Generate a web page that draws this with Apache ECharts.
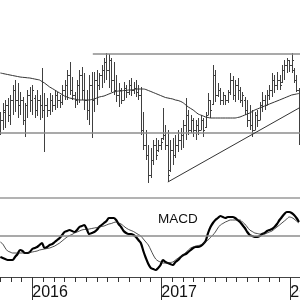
<!DOCTYPE html>
<html>
<head>
<meta charset="utf-8">
<script src="https://cdn.jsdelivr.net/npm/echarts@6/dist/echarts.min.js"></script>
<style>
  html, body { margin: 0; padding: 0; background: #fff; }
  #weeklyChart { width: 300px; height: 300px; }
</style>
</head>
<body>
<div id="weeklyChart"></div>
<script>
// weekly bars, first week ending 2015-10-02
let firstWeek = '2015-10-02'
let highs = [88, 97, 100, 102, 105, 115, 120, 117, 108, 103, 97, 110, 113, 115, 105, 110, 105, 132, 107, 102,
  107, 105, 110, 108, 105, 115, 120, 130, 138, 123, 108, 120, 130, 133, 127, 110, 125, 128, 128, 130,
  127, 135, 142, 147, 146, 142, 138, 125, 117, 112, 118, 115, 120, 122, 118, 120, 115, 113, 88, 70,
  55, 52, 60, 62, 60, 62, 92, 75, 70, 60, 62, 65, 70, 72, 80, 102, 90, 85, 82, 80,
  82, 85, 82, 88, 107, 100, 135, 130, 117, 112, 108, 105, 110, 127, 124, 120, 122, 113, 108, 103,
  100, 95, 90, 88, 90, 98, 108, 105, 110, 115, 127, 125, 128, 125, 135, 140, 142, 140, 147, 132,
  125, 112]
let lows = [65, 70, 72, 78, 75, 85, 88, 82, 85, 75, 63, 82, 88, 85, 82, 84, 80, 82, 48, 83,
  85, 88, 90, 92, 92, 95, 100, 100, 105, 100, 92, 95, 97, 100, 90, 80, 75, 62, 88, 95,
  110, 112, 117, 120, 112, 108, 105, 98, 93, 96, 100, 102, 105, 104, 106, 103, 100, 65, 50, 40,
  17, 22, 35, 40, 48, 50, 60, 50, 18, 28, 35, 42, 48, 50, 52, 60, 65, 67, 63, 60,
  65, 70, 63, 72, 85, 82, 95, 98, 103, 95, 95, 95, 97, 105, 100, 98, 100, 97, 93, 85,
  73, 70, 63, 70, 73, 80, 88, 90, 95, 100, 103, 107, 110, 110, 117, 120, 127, 128, 127, 117,
  108, 55]
let opens = [70, 80, 88, 95, 85, 100, 110, 100, 95, 100, 80, 95, 105, 100, 102, 90, 100, 95, 90, 95,
  90, 100, 95, 105, 100, 98, 110, 115, 125, 110, 105, 100, 115, 125, 110, 100, 90, 115, 100, 120,
  115, 125, 130, 138, 130, 140, 120, 110, 105, 110, 100, 112, 108, 115, 110, 112, 108, 105, 70, 55,
  45, 25, 40, 55, 50, 55, 62, 65, 55, 30, 50, 45, 55, 60, 65, 75, 85, 70, 80, 70,
  75, 70, 80, 73, 85, 100, 96, 125, 105, 110, 100, 105, 100, 108, 120, 105, 115, 110, 100, 100,
  90, 80, 75, 70, 85, 80, 95, 100, 95, 105, 110, 120, 115, 120, 118, 130, 135, 140, 135, 130,
  120, 110]
let closes = [80, 90, 95, 85, 100, 110, 100, 95, 100, 80, 95, 105, 100, 110, 90, 100, 95, 90, 95, 90,
  100, 95, 105, 100, 98, 110, 115, 125, 110, 105, 100, 115, 125, 110, 100, 90, 115, 100, 120, 115,
  125, 130, 138, 130, 140, 120, 110, 105, 110, 100, 112, 108, 115, 110, 112, 108, 105, 70, 55, 45,
  25, 40, 55, 45, 55, 58, 65, 55, 25, 50, 45, 55, 60, 65, 75, 85, 70, 80, 70, 75,
  70, 80, 70, 85, 100, 90, 125, 105, 110, 100, 105, 100, 108, 120, 105, 115, 110, 100, 105, 90,
  80, 75, 70, 85, 80, 95, 100, 95, 105, 110, 120, 115, 120, 115, 130, 135, 140, 135, 140, 120,
  110, 60]
// moving average as drawn
let movingAvg = [127, 126.5, 126, 125.5, 125, 124.5, 124, 123.5, 123, 122.7, 122.5, 122.2, 122, 121.5, 121, 120.5, 120, 118.5, 117, 115,
  113, 111.5, 110, 108.5, 107, 105.5, 104, 103, 102, 101.5, 101, 100.5, 100, 100, 100, 100, 100, 100.5, 101, 102,
  103, 103.5, 104, 105, 106, 107, 108, 108.5, 109, 109, 109.5, 109.5, 110, 110, 110.5, 111, 111, 111, 111, 110.5,
  109.5, 108.5, 107.5, 106.5, 105.5, 104.5, 103.5, 102.5, 102, 101.5, 101, 100, 99.5, 98.5, 97, 95, 93, 91.5, 90, 88,
  86, 85, 84, 83, 82.5, 82, 82, 82, 82, 82, 82, 82, 82, 82, 82, 82, 82.5, 83, 84, 85,
  86, 87, 88.5, 90, 91, 92, 93, 94, 95, 96, 97, 98, 99, 100, 101, 102, 103, 104, 105, 105.5,
  106, 106.5]
let macdLine = [-2.13, -2.23, -2.33, -2.43, -2.43, -2.43, -2.13, -1.83, -1.43, -1.53, -1.73, -1.73, -1.63, -1.33, -1.23, -1.13, -0.93, -0.73, -1.23, -1.13,
  -0.93, -0.83, -0.63, -0.43, -0.23, 0.07, 0.37, 0.47, 0.57, 0.47, 0.37, 0.57, 0.87, 0.97, 1.07, 0.67, 0.17, 0.27, 0.37, 0.57,
  0.87, 1.07, 1.27, 1.47, 1.77, 1.77, 1.77, 1.57, 1.17, 0.87, 0.47, 0.27, 0.17, 0.17, 0.07, -0.13, -0.43, -0.73, -1.53, -2.23,
  -2.83, -3.23, -3.33, -3.43, -3.23, -2.93, -2.43, -2.63, -2.73, -2.83, -2.93, -2.63, -2.43, -2.13, -1.93, -1.83, -1.63, -1.43, -1.23, -1.13,
  -1.13, -1.03, -0.83, -0.53, 0.27, 0.87, 1.27, 1.57, 1.77, 1.97, 1.87, 1.77, 1.87, 1.87, 1.87, 1.77, 1.57, 1.37, 1.07, 0.77,
  0.37, 0.07, -0.03, -0.13, -0.13, -0.03, 0.17, 0.27, 0.47, 0.57, 0.67, 0.87, 1.17, 1.57, 1.87, 2.17, 2.37, 2.37, 2.27, 2.07,
  1.77, 1.37]
let signalLine = [-0.63, -0.83, -1.23, -1.53, -1.63, -1.73, -1.73, -1.73, -1.73, -1.73, -1.73, -1.73, -1.68, -1.63, -1.58, -1.53, -1.43, -1.38, -1.33, -1.28,
  -1.23, -1.13, -1.03, -0.88, -0.73, -0.53, -0.33, -0.13, 0.02, 0.12, 0.27, 0.37, 0.47, 0.57, 0.62, 0.62, 0.67, 0.72, 0.77, 0.82,
  0.87, 0.92, 0.97, 1.07, 1.17, 1.22, 1.32, 1.37, 1.27, 1.17, 0.97, 0.77, 0.62, 0.52, 0.42, 0.27, 0.12, -0.03, -0.33, -0.63,
  -0.93, -1.43, -1.93, -2.33, -2.53, -2.63, -2.73, -2.73, -2.73, -2.68, -2.63, -2.43, -2.23, -2.08, -1.88, -1.68, -1.43, -1.23, -1.13, -1.03,
  -0.98, -0.93, -0.78, -0.58, -0.43, -0.18, 0.07, 0.37, 0.77, 1.07, 1.22, 1.37, 1.47, 1.57, 1.57, 1.57, 1.57, 1.57, 1.37, 1.17,
  0.87, 0.57, 0.42, 0.27, 0.22, 0.17, 0.17, 0.17, 0.27, 0.37, 0.47, 0.67, 0.87, 1.07, 1.27, 1.47, 1.67, 1.87, 1.82, 1.67,
  1.47, 1.27]
// drawn lines on the price panel
let supportLevel = 67
let resistance = [['2016-06-20', 146], ['2018-02-01', 146]]
let trendLine = [['2017-01-20', 18], ['2018-01-29', 92.5]]

// months counted from Jan 2015, so ticks fall on whole numbers
function toMonths(str) {
  let d = new Date(str + 'T00:00:00Z')
  let y = d.getUTCFullYear()
  let m = d.getUTCMonth()
  let dim = new Date(Date.UTC(y, m + 1, 0)).getUTCDate()
  return (y - 2015) * 12 + m + (d.getUTCDate() - 1) / dim
}
let weekX = []
let start = new Date(firstWeek + 'T00:00:00Z')
for (let i = 0; i < highs.length; i++) {
  let d = new Date(start.getTime() + i * 7 * 86400000)
  weekX.push(toMonths(d.toISOString().slice(0, 10)))
}
let barData = highs.map((h, i) => [weekX[i], h, lows[i], opens[i], closes[i]])
let maData = movingAvg.map((v, i) => [weekX[i], v])
let macdData = macdLine.map((v, i) => [weekX[i], v])
let signalData = signalLine.map((v, i) => [weekX[i], v])

let chart = echarts.init(document.getElementById('weeklyChart'), null, { renderer: 'canvas' })
let pxPerMonth = 10.75
let option = {
  animation: false,
  backgroundColor: '#fff',
  title: {
    text: 'MACD',
    left: 158,
    top: 212,
    padding: 0,
    textStyle: { fontFamily: 'Liberation Sans, Arial', fontSize: 13.5, fontWeight: 'normal', color: '#111' }
  },
  grid: [
    { left: 0, top: 0, width: 28 * pxPerMonth, height: 198, outerBoundsMode: 'none', containLabel: false },
    { left: 0, top: 198, width: 28 * pxPerMonth, height: 79, outerBoundsMode: 'none', containLabel: false },
    // time scale axis, runs from Jan 2015 past the right edge
    { left: -9 * pxPerMonth, top: 198, width: 48 * pxPerMonth, height: 79, outerBoundsMode: 'none', containLabel: false }
  ],
  xAxis: [
    {
      gridIndex: 0, type: 'value', min: 9, max: 37,
      axisLine: { show: true, onZero: false, lineStyle: { color: '#9a9a9a', width: 1.5 } },
      axisTick: { show: false }, axisLabel: { show: false }, splitLine: { show: false }
    },
    {
      gridIndex: 1, type: 'value', min: 9, max: 37, show: false
    },
    {
      gridIndex: 2, type: 'value', min: 0, max: 48, interval: 12,
      axisLine: { show: true, onZero: false, lineStyle: { color: '#444', width: 1 } },
      axisTick: { show: true, length: 23, lineStyle: { color: '#333', width: 1 } },
      minorTick: { show: true, splitNumber: 12, length: 5, lineStyle: { color: '#333', width: 1 } },
      axisLabel: {
        show: true,
        margin: 8,
        align: 'left',
        fontFamily: 'Liberation Sans, Arial',
        fontSize: 16,
        color: '#111',
        formatter: v => (v % 12 === 0 ? String(2015 + v / 12) : '')
      },
      splitLine: { show: false }
    }
  ],
  yAxis: [
    { gridIndex: 0, type: 'value', min: 2, max: 200, show: false },
    { gridIndex: 1, type: 'value', min: -4.13, max: 3.77, show: false },
    { gridIndex: 2, type: 'value', min: 0, max: 1, show: false }
  ],
  series: [
    {
      name: 'bars',
      type: 'custom',
      xAxisIndex: 0,
      yAxisIndex: 0,
      clip: true,
      data: barData,
      renderItem: function (params, api) {
        let hi = api.coord([api.value(0), api.value(1)])
        let lo = api.coord([api.value(0), api.value(2)])
        let op = api.coord([api.value(0), api.value(3)])
        let cl = api.coord([api.value(0), api.value(4)])
        let x = Math.round(hi[0]) + 0.5
        let style = { stroke: '#404040', lineWidth: 1 }
        return {
          type: 'group',
          children: [
            { type: 'line', shape: { x1: x, y1: hi[1], x2: x, y2: lo[1] }, style: style },
            { type: 'line', shape: { x1: x - 1.5, y1: Math.round(op[1]) + 0.5, x2: x, y2: Math.round(op[1]) + 0.5 }, style: style },
            { type: 'line', shape: { x1: x, y1: Math.round(cl[1]) + 0.5, x2: x + 1.5, y2: Math.round(cl[1]) + 0.5 }, style: style }
          ]
        }
      }
    },
    {
      name: 'ma',
      type: 'line',
      xAxisIndex: 0,
      yAxisIndex: 0,
      data: maData,
      showSymbol: false,
      smooth: 0.3,
      lineStyle: { color: '#333', width: 1 },
      markLine: {
        silent: true,
        symbol: 'none',
        label: { show: false },
        data: [
          [{ coord: [9, supportLevel], lineStyle: { color: '#8c8c8c', width: 1.5, type: 'solid' } }, { coord: [37, supportLevel] }],
          [{ coord: [toMonths(resistance[0][0]), resistance[0][1]], lineStyle: { color: '#8c8c8c', width: 1.5, type: 'solid' } },
            { coord: [toMonths(resistance[1][0]), resistance[1][1]] }],
          [{ coord: [toMonths(trendLine[0][0]), trendLine[0][1]], lineStyle: { color: '#333', width: 1, type: 'solid' } },
            { coord: [toMonths(trendLine[1][0]), trendLine[1][1]] }]
        ]
      }
    },
    {
      name: 'MACD',
      type: 'line',
      xAxisIndex: 1,
      yAxisIndex: 1,
      data: macdData,
      showSymbol: false,
      smooth: 0.3,
      lineStyle: { color: '#000', width: 2.2 },
      z: 3,
      markLine: {
        silent: true,
        symbol: 'none',
        label: { show: false },
        lineStyle: { color: '#8c8c8c', width: 1.5, type: 'solid' },
        data: [{ yAxis: 0 }]
      }
    },
    {
      name: 'signal',
      type: 'line',
      xAxisIndex: 1,
      yAxisIndex: 1,
      data: signalData,
      showSymbol: false,
      smooth: 0.3,
      lineStyle: { color: '#222', width: 0.8 }
    }
  ]
}
chart.setOption(option)
</script>
</body>
</html>
